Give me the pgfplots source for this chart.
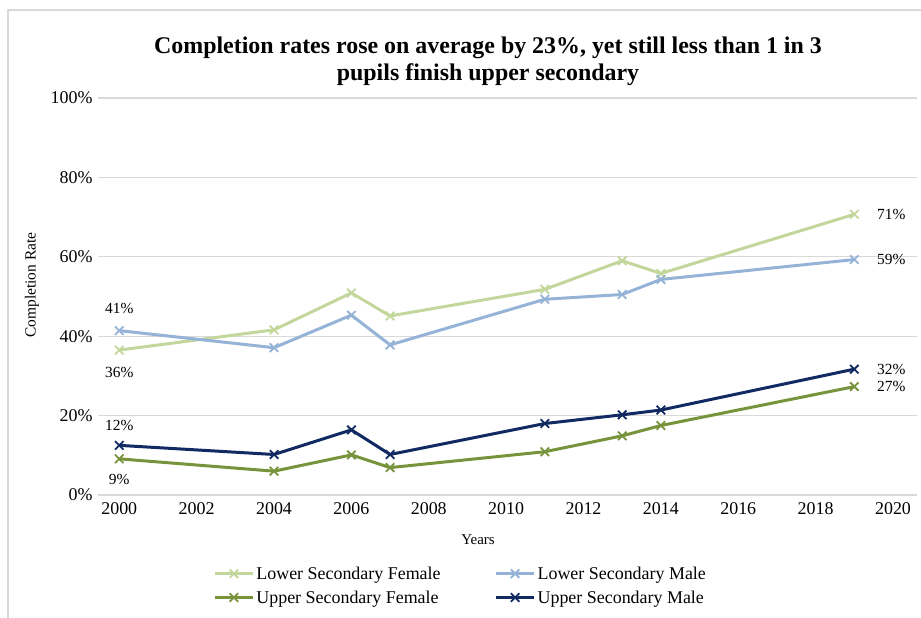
\documentclass[border=0pt]{standalone}
\usepackage{pgfplots}
\pgfplotsset{compat=1.18}
\usepackage{fontspec}
\setmainfont{Liberation Serif}
\definecolor{lsf}{HTML}{C3D69B}
\definecolor{lsm}{HTML}{95B3D7}
\definecolor{usf}{HTML}{77933C}
\definecolor{usm}{HTML}{112A62}
\definecolor{gridc}{HTML}{D9D9D9}
\begin{document}
\begin{tikzpicture}[x=1bp,y=1bp]
\path[use as bounding box] (0,0) rectangle (921,618);
\draw[gridc, line width=1.2bp] (8,0) -- (8,608) -- (921,608);
\node[font=\fontsize{24}{28}\selectfont\bfseries] at (488,570) {Completion rates rose on average by 23\%, yet still less than 1 in 3};
\node[font=\fontsize{24}{28}\selectfont\bfseries] at (488,543) {pupils finish upper secondary};
\node[font=\fontsize{15.5}{18}\selectfont, rotate=90] at (32,333) {Completion Rate};
\node[font=\fontsize{15}{18}\selectfont] at (478,78) {Years};
\begin{axis}[
  at={(98bp,123bp)}, anchor=south west,
  width=819bp, height=397bp, scale only axis,
  xmin=1999.45, xmax=2020.62, ymin=0, ymax=100,
  axis line style={draw=none},
  axis x line*=bottom,
  ytick={0,20,40,60,80,100},
  xtick={2000,2002,...,2020},
  ymajorgrids, grid style={gridc, line width=1.2bp},
  major tick length=0pt,
  /pgf/number format/assume math mode=true,
  xticklabel style={/pgf/number format/1000 sep={}, font=\fontsize{18}{20}\selectfont, yshift=-4bp},
  yticklabel={\pgfmathprintnumber{\tick}\%},
  yticklabel style={font=\fontsize{18}{20}\selectfont, xshift=-2bp},
  clip=false,
  every axis plot/.append style={line width=3bp, mark=x, mark size=6bp, mark options={line width=1.8bp, solid}},
  legend columns=2,
  legend style={draw=none, fill=none, font=\fontsize{18}{21}\selectfont,
    at={(0.137,-0.170)}, anchor=north west,
    /tikz/every even column/.append style={column sep=52bp},
    row sep=6bp},
  legend cell align=left,
  legend image code/.code={
    \draw[#1, mark repeat=2, mark phase=2] plot coordinates {(0bp,0bp) (19bp,0bp) (38bp,0bp)};
  },
]
\draw[gridc, line width=1.2bp] (axis cs:1999.45,0) -- (axis cs:2020.62,0);
\addplot[lsf] coordinates {(2000,36.5) (2004,41.6) (2006,50.9) (2007,45.1) (2011,51.8) (2013,59.0) (2014,55.8) (2019,70.7)};
\addlegendentry{Lower Secondary Female}
\addplot[lsm] coordinates {(2000,41.4) (2004,37.1) (2006,45.3) (2007,37.8) (2011,49.3) (2013,50.5) (2014,54.3) (2019,59.3)};
\addlegendentry{Lower Secondary Male}
\addplot[usf] coordinates {(2000,9.1) (2004,6.0) (2006,10.1) (2007,6.9) (2011,10.9) (2013,14.9) (2014,17.5) (2019,27.3)};
\addlegendentry{Upper Secondary Female}
\addplot[usm] coordinates {(2000,12.5) (2004,10.2) (2006,16.4) (2007,10.2) (2011,18.0) (2013,20.2) (2014,21.4) (2019,31.7)};
\addlegendentry{Upper Secondary Male}
\begin{scope}[every node/.style={font=\fontsize{15.5}{18}\selectfont}]
\node at (axis cs:2000,47.0) {41\%};
\node at (axis cs:2000,30.8) {36\%};
\node at (axis cs:2000,17.6) {12\%};
\node at (axis cs:2000,4.0) {9\%};
\node[anchor=west] at (axis cs:2019.5,70.7) {71\%};
\node[anchor=west] at (axis cs:2019.5,59.3) {59\%};
\node[anchor=west] at (axis cs:2019.5,31.7) {32\%};
\node[anchor=west] at (axis cs:2019.5,27.3) {27\%};
\end{scope}
\end{axis}
\end{tikzpicture}
\end{document}
